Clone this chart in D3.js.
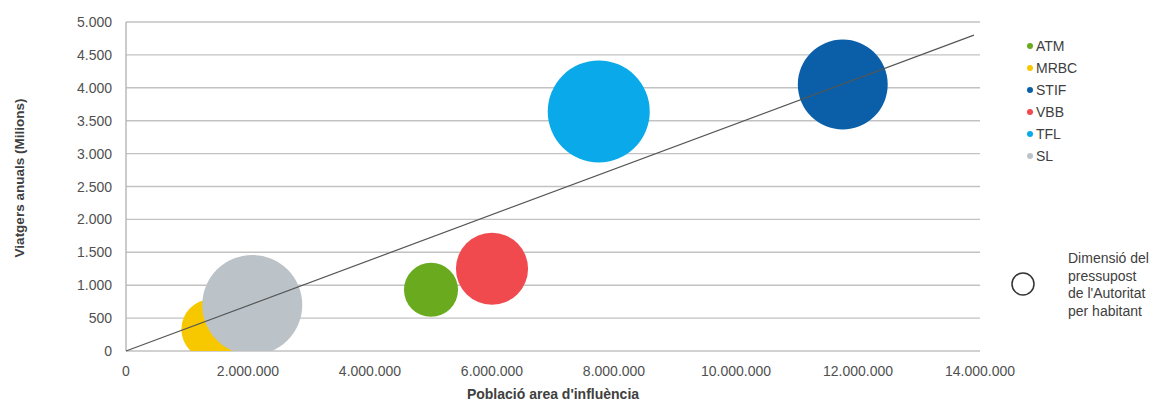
<!DOCTYPE html>
<html>
<head>
<meta charset="utf-8">
<script src="https://cdn.jsdelivr.net/npm/d3@7"></script>
<style>
  body { margin: 0; background: #fff; }
  #chart-area { width: 1174px; height: 403px; }
  text { font-family: "Liberation Sans", Arial, sans-serif; }
</style>
</head>
<body>
<div id="chart-area"></div>
<script>
// data (estimates)
const operators = ["ATM", "MRBC", "STIF", "VBB", "TFL", "SL"];
const population = [5000000, 1400000, 11750000, 6000000, 7750000, 2070000];
const passengers = [930, 330, 4050, 1250, 3640, 700];
const budgetPerHab = [73, 90, 202, 130, 260, 250];
const colors = ["#6aaa1e", "#f7c800", "#0a5fa8", "#f04a4e", "#0aaaea", "#bcc3c8"];

const xTicks = [0, 2000000, 4000000, 6000000, 8000000, 10000000, 12000000, 14000000];
const yTicks = [0, 500, 1000, 1500, 2000, 2500, 3000, 3500, 4000, 4500, 5000];
const trendX = [0, 13900000];
const trendY = [0, 4800];

const sizeLegend = ["Dimensió del", "pressupost", "de l'Autoritat", "per habitant"];

const width = 1174;
const height = 403;

const plot = { left: 126, right: 980, top: 22, bottom: 351 };

const svg = d3.select("#chart-area")
    .append("svg")
    .attr("width", width)
    .attr("height", height);

var x = d3.scaleLinear()
    .domain([0, 14000000])
    .range([plot.left, plot.right]);

var y = d3.scaleLinear()
    .domain([0, 5000])
    .range([plot.bottom, plot.top]);

var r = d3.scaleSqrt()
    .domain([0, d3.max(budgetPerHab)])
    .range([0, 51]);

var fmt = d3.formatLocale({ decimal: ",", thousands: ".", grouping: [3], currency: ["", "€"] }).format(",d");

// gridlines
svg.append("g")
    .selectAll("line")
    .data(yTicks)
    .join("line")
    .attr("x1", plot.left)
    .attr("x2", plot.right)
    .attr("y1", d => y(d))
    .attr("y2", d => y(d))
    .attr("stroke", "#c2c2c2")
    .attr("stroke-width", 1.4);

// left axis line
svg.append("line")
    .attr("x1", plot.left).attr("x2", plot.left)
    .attr("y1", plot.top).attr("y2", plot.bottom)
    .attr("stroke", "#b5b5b5")
    .attr("stroke-width", 1.4);

// y labels
svg.append("g")
    .selectAll("text")
    .data(yTicks)
    .join("text")
    .attr("x", 112)
    .attr("y", d => y(d) + 5)
    .attr("text-anchor", "end")
    .attr("font-size", "14px")
    .attr("fill", "#505050")
    .text(d => fmt(d));

// x labels
svg.append("g")
    .selectAll("text")
    .data(xTicks)
    .join("text")
    .attr("x", d => x(d))
    .attr("y", 376)
    .attr("text-anchor", "middle")
    .attr("font-size", "14px")
    .attr("fill", "#505050")
    .text(d => fmt(d));

// axis titles
svg.append("text")
    .attr("transform", "translate(24," + 178 + ") rotate(-90)")
    .attr("text-anchor", "middle")
    .attr("font-size", "13.5px")
    .attr("font-weight", "bold")
    .attr("fill", "#404040")
    .text("Viatgers anuals (Milions)");

svg.append("text")
    .attr("x", (plot.left + plot.right) / 2)
    .attr("y", 399)
    .attr("text-anchor", "middle")
    .attr("font-size", "14px")
    .attr("font-weight", "bold")
    .attr("fill", "#404040")
    .text("Població area d'influència");

// bubbles, clipped to the plot area
svg.append("clipPath")
    .attr("id", "plot-clip")
    .append("rect")
    .attr("x", plot.left)
    .attr("y", plot.top)
    .attr("width", plot.right - plot.left)
    .attr("height", plot.bottom - plot.top);

var bubbles = operators.map((d, i) => ({
    name: d,
    pop: population[i],
    trips: passengers[i],
    size: budgetPerHab[i],
    color: colors[i]
}));

svg.append("g")
    .attr("clip-path", "url(#plot-clip)")
    .selectAll("circle")
    .data(bubbles)
    .join("circle")
    .attr("cx", d => x(d.pop))
    .attr("cy", d => y(d.trips))
    .attr("r", d => r(d.size))
    .attr("fill", d => d.color);

// trend line
svg.append("line")
    .attr("x1", x(trendX[0]))
    .attr("y1", y(trendY[0]))
    .attr("x2", x(trendX[1]))
    .attr("y2", y(trendY[1]))
    .attr("stroke", "#555")
    .attr("stroke-width", 1.2);

// legend
var legend = svg.append("g")
    .selectAll("g")
    .data(bubbles)
    .join("g")
    .attr("transform", (d, i) => "translate(1030," + (46 + i * 22) + ")");

legend.append("circle")
    .attr("r", 3)
    .attr("fill", d => d.color);

legend.append("text")
    .attr("x", 6)
    .attr("y", 5)
    .attr("font-size", "14px")
    .attr("fill", "#404040")
    .text(d => d.name);

svg.append("circle")
    .attr("cx", 1023)
    .attr("cy", 284)
    .attr("r", 11)
    .attr("fill", "none")
    .attr("stroke", "#333")
    .attr("stroke-width", 1.5);

svg.append("g")
    .selectAll("text")
    .data(sizeLegend)
    .join("text")
    .attr("x", 1068)
    .attr("y", (d, i) => 263 + i * 17.5)
    .attr("font-size", "14px")
    .attr("fill", "#404040")
    .text(d => d);
</script>
</body>
</html>
